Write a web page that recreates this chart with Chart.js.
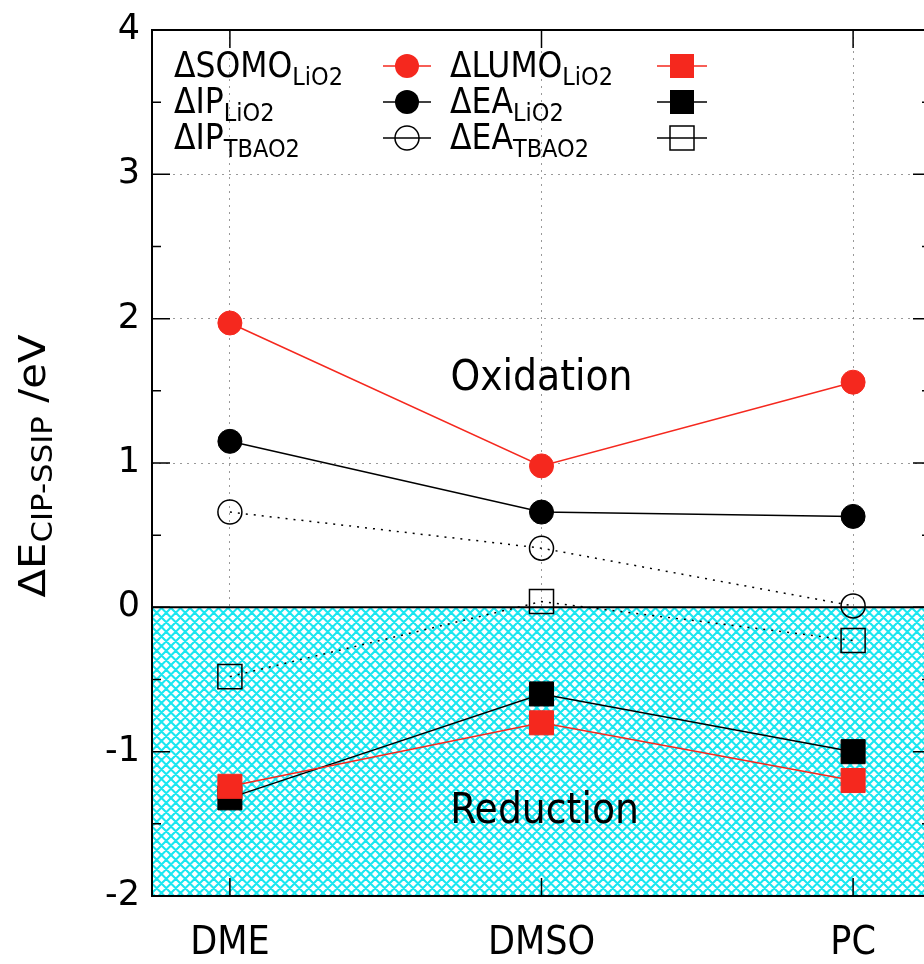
<!DOCTYPE html>
<html>
<head>
<meta charset="utf-8">
<script src="https://cdn.jsdelivr.net/npm/chart.js@4"></script>
<style>
  html, body { margin: 0; padding: 0; background: #fff; overflow: hidden; }
  #wrap { width: 940px; height: 964px; }
</style>
</head>
<body>
<div id="wrap"><canvas id="myChart" width="940" height="964"></canvas></div>
<script>
// solvents on the x axis
const solvents = ['DME', 'DMSO', 'PC'];

// energy differences (eV)
const somoLiO2 = [1.97, 0.98, 1.56];
const ipLiO2 = [1.15, 0.66, 0.63];
const ipTBAO2 = [0.66, 0.41, 0.01];
const lumoLiO2 = [-1.24, -0.80, -1.20];
const eaLiO2 = [-1.32, -0.60, -1.00];
const eaTBAO2 = [-0.48, 0.04, -0.23];

const yTicks = [-2, -1, 0, 1, 2, 3, 4];

const FONT = '"DejaVu Sans Condensed", "DejaVu Sans", sans-serif';
const WIDE = '"DejaVu Sans", Verdana, sans-serif';

// cyan crosshatch for the reduction region
function makeHatch(base) {
  const p = 9.5;
  const c = document.createElement('canvas');
  c.width = 19; c.height = 19;
  const g = c.getContext('2d');
  g.fillStyle = '#fff';
  g.fillRect(0, 0, 19, 19);
  g.strokeStyle = '#1ae6f0';
  g.lineWidth = 2.1;
  g.beginPath();
  for (let k = -19; k <= 19; k += p) {
    g.moveTo(k, 0); g.lineTo(k + 19, 19);
    g.moveTo(k + 19, 0); g.lineTo(k, 19);
  }
  g.stroke();
  return base.createPattern(c, 'repeat');
}
const ctx = document.getElementById('myChart');
const hatch = makeHatch(ctx.getContext('2d'));

const pts = arr => arr.map((v, i) => ({ x: i, y: v }));

// legend entries: [main text, subscript, color, style, filled]
const legendItems = [
  ['\u0394SOMO', 'LiO2', '#f5281e', 'circle', true],
  ['\u0394IP', 'LiO2', '#000', 'circle', true],
  ['\u0394IP', 'TBAO2', '#000', 'circle', false],
  ['\u0394LUMO', 'LiO2', '#f5281e', 'rect', true],
  ['\u0394EA', 'LiO2', '#000', 'rect', true],
  ['\u0394EA', 'TBAO2', '#000', 'rect', false]
];

function series(data, color, style, filled, dashed) {
  return {
    data: pts(data),
    borderColor: color,
    borderWidth: 1.5,
    borderDash: dashed ? [2, 6] : [],
    pointStyle: style,
    pointRadius: style === 'rect' ? 17 : 12,
    pointBorderWidth: filled ? 1 : 1.5,
    pointBorderColor: color,
    pointBackgroundColor: filled ? color : 'rgba(0,0,0,0)',
    showLine: true,
    fill: false
  };
}

const decorations = {
  id: 'decorations',
  afterDraw(chart) {
    const c = chart.ctx;
    const a = chart.chartArea;
    const xs = chart.scales.x, ys = chart.scales.y;
    c.save();
    // frame
    c.strokeStyle = '#000';
    c.lineWidth = 2;
    c.strokeRect(a.left, a.top, a.right - a.left, a.bottom - a.top);
    // inward ticks
    c.lineWidth = 1.5;
    c.beginPath();
    for (let v = -2; v <= 4; v += 0.5) {
      const y = ys.getPixelForValue(v);
      const len = Number.isInteger(v) ? 18 : 9;
      c.moveTo(a.left, y); c.lineTo(a.left + len, y);
      c.moveTo(a.right, y); c.lineTo(a.right - len, y);
    }
    for (let i = 0; i < solvents.length; i++) {
      const x = xs.getPixelForValue(i);
      c.moveTo(x, a.top); c.lineTo(x, a.top + 18);
      c.moveTo(x, a.bottom); c.lineTo(x, a.bottom - 18);
    }
    c.stroke();

    // region labels
    c.fillStyle = '#000';
    c.font = '42px ' + FONT;
    c.textAlign = 'center';
    c.textBaseline = 'middle';
    c.fillText('Oxidation', xs.getPixelForValue(1), ys.getPixelForValue(1.58));
    c.fillText('Reduction', xs.getPixelForValue(1.01), ys.getPixelForValue(-1.42));

    // y axis title with subscript, slightly stretched along the text
    c.save();
    c.translate(45, 466);
    c.rotate(-Math.PI / 2);
    c.scale(1.1, 1);
    c.textBaseline = 'alphabetic';
    c.textAlign = 'left';
    const main = '\u0394E', sub = 'CIP-SSIP', tail = ' /eV';
    c.font = '38px ' + WIDE;
    const w1 = c.measureText(main).width;
    const w3 = c.measureText(tail).width;
    c.font = '28px ' + WIDE;
    const w2 = c.measureText(sub).width;
    const x0 = -(w1 + w2 + w3) / 2;
    c.font = '38px ' + WIDE;
    c.fillText(main, x0, 0);
    c.font = '28px ' + WIDE;
    c.fillText(sub, x0 + w1, 7);
    c.font = '38px ' + WIDE;
    c.fillText(tail, x0 + w1 + w2, 0);
    c.restore();

    // gnuplot-style key
    const rows = [66, 102, 138];
    const cols = [{ tx: 174, lx0: 383, lx1: 431 }, { tx: 450, lx0: 657, lx1: 707 }];
    legendItems.forEach((it, k) => {
      const col = cols[Math.floor(k / 3)];
      const y = rows[k % 3];
      c.textAlign = 'left';
      c.textBaseline = 'middle';
      c.fillStyle = '#000';
      c.font = '35px ' + FONT;
      c.fillText(it[0], col.tx, y + 2);
      const w = c.measureText(it[0]).width;
      c.font = '25px ' + FONT;
      c.fillText(it[1], col.tx + w, y + 12);
      c.strokeStyle = it[2];
      c.lineWidth = 1.5;
      c.beginPath();
      c.moveTo(col.lx0, y); c.lineTo(col.lx1, y);
      c.stroke();
      const mx = (col.lx0 + col.lx1) / 2;
      c.beginPath();
      if (it[3] === 'circle') c.arc(mx, y, 12, 0, Math.PI * 2);
      else c.rect(mx - 12, y - 12, 24, 24);
      if (it[4]) { c.fillStyle = it[2]; c.fill(); }
      else { c.strokeStyle = it[2]; c.lineWidth = 1.5; c.stroke(); }
    });
    c.restore();
  }
};

new Chart(ctx, {
  type: 'scatter',
  data: {
    datasets: [
      {
        // reduction region: fill from 0 down to the bottom of the axis
        data: [{ x: -0.25, y: 0 }, { x: 2.25, y: 0 }],
        showLine: true,
        borderColor: '#000',
        borderWidth: 2,
        pointRadius: 0,
        backgroundColor: hatch,
        fill: 'start',
        order: 10
      },
      series(somoLiO2, '#f5281e', 'circle', true, false),
      series(ipLiO2, '#000', 'circle', true, false),
      series(ipTBAO2, '#000', 'circle', false, true),
      series(lumoLiO2, '#f5281e', 'rect', true, false),
      series(eaLiO2, '#000', 'rect', true, false),
      series(eaTBAO2, '#000', 'rect', false, true)
    ]
  },
  options: {
    responsive: false,
    animation: false,
    events: [],
    layout: { autoPadding: false, padding: { top: 30, right: 9, left: 0, bottom: 0 } },
    plugins: {
      legend: { display: false },
      tooltip: { enabled: false }
    },
    scales: {
      x: {
        type: 'linear',
        min: -0.25,
        max: 2.25,
        afterBuildTicks: s => { s.ticks = solvents.map((_, i) => ({ value: i })); },
        afterFit: s => { s.height = 68; s.paddingLeft = 0; s.paddingRight = 0; },
        ticks: {
          callback: v => solvents[v],
          color: '#000',
          font: { family: FONT, size: 39 },
          padding: 24,
          maxRotation: 0
        },
        grid: {
          color: '#999',
          lineWidth: 1,
          drawTicks: false
        },
        border: { display: false, dash: [2, 5] }
      },
      y: {
        min: -2,
        max: 4,
        afterBuildTicks: s => { s.ticks = yTicks.map(v => ({ value: v })); },
        afterFit: s => { s.width = 152; s.paddingTop = 0; s.paddingBottom = 0; },
        ticks: {
          color: '#000',
          font: { family: WIDE, size: 35 },
          padding: 12
        },
        grid: {
          color: '#999',
          lineWidth: 1,
          drawTicks: false
        },
        border: { display: false, dash: [2, 5] }
      }
    }
  },
  plugins: [decorations]
});
</script>
</body>
</html>
